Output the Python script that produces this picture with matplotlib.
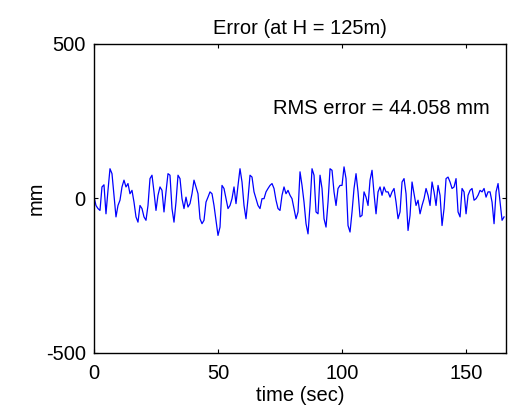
import numpy as np
import matplotlib
matplotlib.use("Agg")
import matplotlib.pyplot as plt

plt.rcParams['font.family'] = ['Liberation Sans', 'DejaVu Sans']
plt.rcParams['axes.unicode_minus'] = False

# sample spacing of the readings (sec)
dt = 0.806

# error signal (mm)
err = [
    5, -23, -33, -39, 37, 44, -50, 26, 96, 80, 10, -60, -23, -6, 37, 59, 37, 48,
    15, 26, -12, -60, -77, -23, -33, -60, -71, -23, 64, 75, 21, -39, 10, 37, 26,
    -44, 21, 80, 75, -33, -77, -12, 75, 64, -1, -33, 4, -28, -17, 15, 59, 37,
    15, -66, -82, -71, -12, 4, 21, 15, -23, -71, -120, -93, 42, 32, -1, -33,
    -23, -1, 37, -17, 42, 96, 53, -23, -66, -1, 75, 69, 21, -1, -23, -33, -1,
    -1, 21, 32, 42, 48, 32, -6, -33, -39, 10, 37, 15, 26, 10, -1, -33, -66,
    -44, 86, 42, -12, -82, -115, -23, 96, 75, -44, -50, 75, 32, -66, -93, -12,
    96, 91, 21, -23, 32, 42, 42, 102, 64, -88, -109, -44, 32, 80, 21, -60, -55,
    21,
    4, -23, 59, 91, 15, -50, 21, 37, 10, 37, 21, 21, 4, 21, 32, -12, -66, -44,
    53, 64, 15, -104, -55, 53, 15, -23, -6, -50, -23, -1, 32, 10, -23, 53,
    21, -23, 42, 10, -88, -33, 64, 69, 53, 32, 37, 64, -44, -60, 32, 21, -50,
    10, 26, 32, -6, -1, 10, 26, 21, 32, 4, 21, 21, -12, -82, 21, 48, -12, -71,
    -60,
]
t = np.arange(len(err)) * dt

rms_text = 'RMS error = 44.058 mm'
fs = 14.5

fig = plt.figure(figsize=(5.08, 4.15), dpi=100)
ax = fig.add_axes([0.185, 0.150, 0.811, 0.744])

ax.plot(t, err, color='#0000ff', linewidth=0.9)

ax.set_xlim(0, 166)
ax.set_ylim(-500, 500)
ax.set_xticks([0, 50, 100, 150])
ax.set_yticks([-500, 0, 500])

ax.tick_params(direction='in', length=3, width=0.8, top=True, right=True,
               labelsize=fs)
ax.tick_params(axis='x', pad=8)
ax.tick_params(axis='y', pad=6)
for s in ax.spines.values():
    s.set_linewidth(1.0)

ax.set_title('Error (at H = 125m)', fontsize=fs, pad=7)
ax.set_xlabel('time (sec)', fontsize=fs, labelpad=2)
ax.set_ylabel('mm', fontsize=fs, labelpad=0)
ax.text(72, 292, rms_text, fontsize=fs, va='center')

fig.savefig('out.png', dpi=100)
